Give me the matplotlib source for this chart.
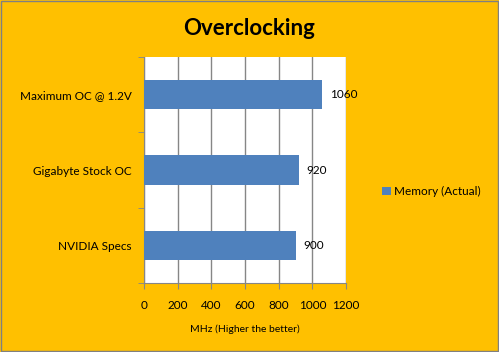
import matplotlib.pyplot as plt
from matplotlib.patches import Rectangle

# data
categories = ["NVIDIA Specs", "Gigabyte Stock OC", "Maximum OC @ 1.2V"]
memory_actual = [900, 920, 1060]
x_ticks = [0, 200, 400, 600, 800, 1000, 1200]

bg = "#FFC000"
bar_color = "#4F81BD"
plt.rcParams['font.family'] = ['Lato', 'DejaVu Sans']

fig = plt.figure(figsize=(4.99, 3.52), dpi=100, facecolor=bg)
# outer border
fig.patches.append(Rectangle((0.002, 0.003), 0.995, 0.994, transform=fig.transFigure,
                             fill=False, edgecolor="#808080", linewidth=1))

ax = fig.add_axes([0.2886, 0.196, 0.4048, 0.642])
ax.set_facecolor("white")

ypos = range(len(categories))
bars = ax.barh(ypos, memory_actual, height=0.39, color=bar_color, label="Memory (Actual)", zorder=3)

for y, v in zip(ypos, memory_actual):
    ax.text(v + 45, y, str(v), va="center", ha="left", fontsize=8.5, color="black")

ax.set_xlim(0, 1200)
ax.set_ylim(-0.5, 2.5)
ax.set_xticks(x_ticks)
ax.set_xticklabels([str(t) for t in x_ticks], fontsize=8.5)
ax.set_yticks(list(ypos))
ax.set_yticklabels(categories, fontsize=8.5)
ax.set_yticks([-0.5, 0.5, 1.5, 2.5], minor=True)
ax.tick_params(axis="y", which="major", length=0, pad=9)
ax.tick_params(axis="y", which="minor", length=4, color="#868686", direction="out")
ax.tick_params(axis="x", length=4, color="#868686", direction="out", pad=8)
ax.grid(axis="x", color="#868686", linewidth=1, zorder=0)
for s in ["top", "right"]:
    ax.spines[s].set_visible(False)
for s in ["left", "bottom"]:
    ax.spines[s].set_color("#868686")

ax.set_xlabel("MHz (Higher the better)", fontsize=7.5, labelpad=10)
fig.text(0.5, 0.92, "Overclocking", ha="center", va="center", fontsize=16, fontweight="bold")

fig.legend(handles=[bars], labels=["Memory (Actual)"], loc="center left",
           bbox_to_anchor=(0.745, 0.455), frameon=False, fontsize=8.5,
           handlelength=0.7, handleheight=0.7, handletextpad=0.3)

fig.savefig("out.png", dpi=100, facecolor=bg)
